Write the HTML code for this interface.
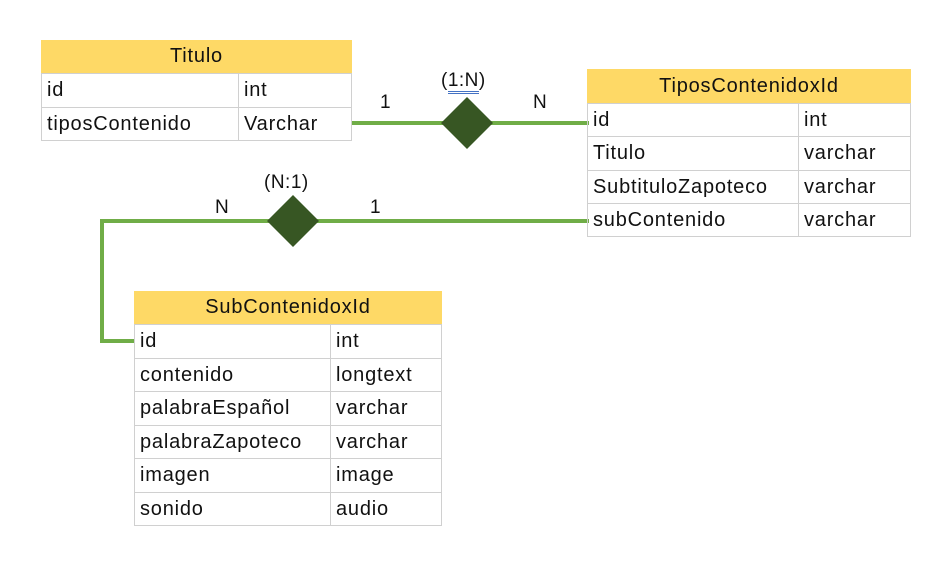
<!DOCTYPE html>
<html><head><meta charset="utf-8"><style>
body{margin:0;width:947px;height:569px;background:#fff;position:relative;overflow:hidden;font-family:"Liberation Sans",sans-serif;color:#111}
.t{position:absolute;border-collapse:collapse}
.c{position:absolute;font-size:20px;letter-spacing:0.8px;line-height:1}
.tb{position:absolute}
.hd{position:absolute;background:#fed966;text-align:center;font-size:20px;letter-spacing:0.8px}
.cell{position:absolute;border:1px solid #d0d0d0;box-sizing:border-box;font-size:20px;letter-spacing:0.8px;padding-left:5px;white-space:nowrap;overflow:hidden}
.lbl{position:absolute;font-size:19px;letter-spacing:0.5px;white-space:nowrap}
</style></head><body>
<svg width="947" height="569" style="position:absolute;left:0;top:0">
<g stroke="#70ad47" stroke-width="4" fill="none">
<line x1="352" y1="123" x2="589" y2="123"/>
<polyline points="589,221 102,221 102,341 134,341"/>
</g>
<polygon points="467,97 493,123 467,149 441,123" fill="#375623"/>
<polygon points="293,195 319,221 293,247 267,221" fill="#375623"/>
</svg>
<div id="tables"></div>
<script>
function tbl(x,y,w,split,title,rows,rh,hh){
 let h='<div class="hd" style="left:'+x+'px;top:'+y+'px;width:'+w+'px;height:'+hh+'px;line-height:'+hh+'px">'+title+'</div>';
 rows.forEach((r,i)=>{
  let ty=y+hh+i*rh;
  h+='<div class="cell" style="left:'+x+'px;top:'+ty+'px;width:'+(split-x+1)+'px;height:'+(rh+1)+'px;line-height:'+rh+'px">'+r[0]+'</div>';
  h+='<div class="cell" style="left:'+split+'px;top:'+ty+'px;width:'+(x+w-split)+'px;height:'+(rh+1)+'px;line-height:'+rh+'px">'+r[1]+'</div>';
 });
 return h;
}
document.getElementById('tables').innerHTML=
 tbl(41,40,311,238,'Titulo',[['id','int'],['tiposContenido','Varchar']],33.5,33)+
 tbl(587,69,324,798,'TiposContenidoxId',[['id','int'],['Titulo','varchar'],['SubtituloZapoteco','varchar'],['subContenido','varchar']],33.3,34)+
 tbl(134,291,308,330,'SubContenidoxId',[['id','int'],['contenido','longtext'],['palabraEspañol','varchar'],['palabraZapoteco','varchar'],['imagen','image'],['sonido','audio']],33.5,33);
</script>
<div class="lbl" style="left:380px;top:92px">1</div>
<div class="lbl" style="left:441px;top:70px">(<span style="border-bottom:3px double #4472c4">1:N</span>)</div>
<div class="lbl" style="left:533px;top:92px">N</div>
<div class="lbl" style="left:264px;top:172px">(N:1)</div>
<div class="lbl" style="left:215px;top:197px">N</div>
<div class="lbl" style="left:370px;top:197px">1</div>
</body></html>
